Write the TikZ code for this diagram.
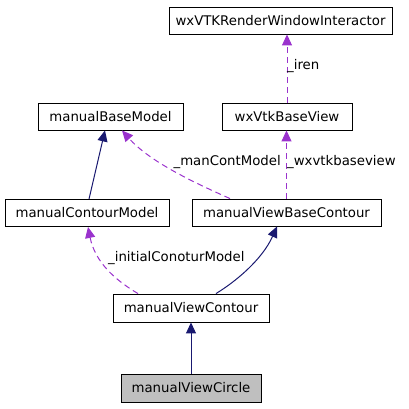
\documentclass[tikz,border=0pt]{standalone}
\usepackage{fontspec}
\setmainfont{DejaVu Sans}
\usetikzlibrary{arrows.meta}
\definecolor{inhcol}{RGB}{25,25,112}
\definecolor{usecol}{RGB}{154,50,205}
\definecolor{hlfill}{RGB}{191,191,191}
\begin{document}
\begin{tikzpicture}[x=1pt,y=-1pt,
  cls/.style={draw=black,line width=0.9pt,fill=white,inner sep=0pt,minimum height=27pt,font=\fontsize{13.3}{16}\selectfont},
  inh/.style={draw=inhcol,line width=1pt,-{Triangle[length=11pt,width=10pt]}},
  use/.style={draw=usecol,line width=1pt,dash pattern=on 6pt off 4pt,-{Triangle[length=11pt,width=10pt]}},
  lbl/.style={font=\fontsize{13.3}{16}\selectfont,inner sep=0pt}]
\useasboundingbox (0,0) rectangle (409,408);
\node[cls,minimum width=223pt] (rwi) at (280.5,20.5) {wxVTKRenderWindowInteractor};
\node[cls,minimum width=145pt] (mbm) at (110.5,116.5) {manualBaseModel};
\node[cls,minimum width=130pt] (vbv) at (287,116.5) {wxVtkBaseView};
\node[cls,minimum width=164pt] (mcm) at (87,213) {manualContourModel};
\node[cls,minimum width=189pt] (vbc) at (286.5,212.5) {manualViewBaseContour};
\node[cls,minimum width=156pt,minimum height=28pt] (mvc) at (191,308) {manualViewContour};
\node[cls,minimum width=140pt,minimum height=28pt,fill=hlfill] (circ) at (191,388) {manualViewCircle};

\draw[use] (vbv.north) -- (vbv.north |- rwi.south);
\node[lbl,anchor=west] (liren) at (287,66) {\_iren};

\draw[use] (vbc.north) -- (vbc.north |- vbv.south);
\node[lbl,anchor=west] (lwx) at (287,162) {\_wxvtkbaseview};

\draw[use] ([xshift=-56.5pt]vbc.north) .. controls (195,183) and (150,162) .. ([xshift=11.5pt]mbm.south);
\node[lbl,anchor=east] (lman) at (281,162) {\_manContModel};

\draw[inh] ([xshift=2pt]mcm.north) -- ([xshift=-5.5pt]mbm.south);

\draw[use] ([xshift=-53pt]mvc.north) .. controls (115,280) and (95,262) .. ([xshift=1pt]mcm.south);
\node[lbl,anchor=west] (linit) at (108,258) {\_initialConoturModel};

\draw[inh] ([xshift=25pt]mvc.north) .. controls (235,282) and (262,260) .. ([xshift=-9.5pt]vbc.south);

\draw[inh] (circ.north) -- (mvc.south);
\end{tikzpicture}
\end{document}
